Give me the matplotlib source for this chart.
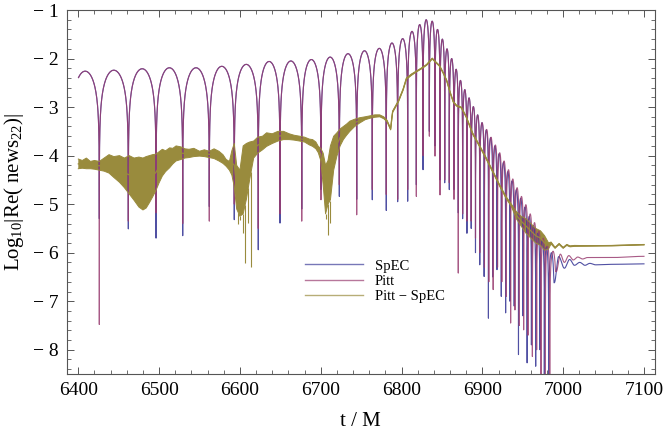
import numpy as np
import matplotlib
matplotlib.use("Agg")
import matplotlib.pyplot as plt
from matplotlib.ticker import MultipleLocator, FuncFormatter

plt.rcParams['font.family'] = ['Liberation Serif', 'DejaVu Serif']
plt.rcParams['mathtext.fontset'] = 'custom'
plt.rcParams['mathtext.rm'] = 'Liberation Serif'
plt.rcParams['mathtext.default'] = 'regular'

# ---------------- data ----------------
# zero crossings of Re(news22) (t/M), lobe maxima (log10) and plotted depth at each zero
spec_zeros = [6391.0, 6426.0, 6461.9, 6496.2, 6529.2, 6562.1, 6593.0, 6622.7, 6649.6, 6676.5,
              6700.3, 6723.0, 6744.5, 6763.8, 6781.1, 6795.2, 6807.6, 6818.3, 6826.6, 6834.4,
              6841.4, 6847.6, 6853.4, 6859.1, 6864.9, 6870.2, 6875.6, 6880.9, 6886.2, 6891.5,
              6896.8, 6902.2, 6907.5, 6912.8, 6918.1, 6923.4, 6928.8, 6934.1, 6939.4, 6944.7,
              6950.1, 6955.4, 6960.7, 6966.0, 6971.3, 6976.7, 6982.0, 6989.0]
spec_peaks = [-2.26, -2.24, -2.21, -2.19, -2.19, -2.16, -2.12, -2.06, -2.05, -2.02,
              -1.97, -1.90, -1.84, -1.79, -1.68, -1.59, -1.44, -1.30, -1.20, -1.23,
              -1.40, -1.60, -1.80, -2.00, -2.22, -2.45, -2.64, -2.81, -2.99, -3.16,
              -3.32, -3.47, -3.63, -3.80, -3.96, -4.14, -4.33, -4.52, -4.70, -4.88,
              -5.06, -5.25, -5.44, -5.60, -5.75, -5.88, -6.00]
spec_depths = [-3.00, -5.30, -5.51, -5.70, -5.65, -5.05, -5.32, -5.94, -5.39, -5.10,
               -4.70, -4.84, -4.90, -4.91, -5.13, -4.95, -4.94, -4.60, -4.29, -3.50,
               -3.80, -4.50, -4.56, -4.70, -4.70, -5.18, -5.30, -5.60, -5.50, -6.00,
               -6.25, -6.49, -7.35, -6.50, -6.35, -6.90, -7.24, -7.00, -7.10, -8.10,
               -7.30, -8.27, -7.90, -8.34, -8.00, -8.60, -8.60, -6.62]
spec_tail_t = [6989.0, 6994.5, 7001.5, 7008.0, 7014.0, 7020.5, 7027.0, 7033.0, 7040.0, 7060.0, 7100.0]
spec_tail_v = [-6.62, -6.08, -6.32, -6.14, -6.26, -6.20, -6.26, -6.22, -6.25, -6.24, -6.23]

pitt_zeros = [6391.0, 6426.0, 6461.9, 6496.2, 6529.2, 6562.1, 6593.0, 6622.7, 6649.6, 6676.5,
              6700.3, 6723.0, 6744.5, 6763.8, 6781.1, 6795.2, 6807.6, 6818.3, 6826.6, 6834.4,
              6841.4, 6847.6, 6853.4, 6859.1, 6864.9, 6870.2, 6875.6, 6880.9, 6886.2, 6891.5,
              6896.8, 6902.6, 6908.0, 6913.4, 6918.8, 6924.1, 6929.6, 6935.0, 6940.3, 6945.7,
              6951.1, 6956.5, 6961.9, 6967.2, 6972.6, 6978.0, 6983.4, 6991.5]
pitt_peaks = [-2.26, -2.24, -2.21, -2.19, -2.19, -2.16, -2.12, -2.06, -2.05, -2.02,
              -1.97, -1.90, -1.84, -1.79, -1.68, -1.59, -1.44, -1.30, -1.20, -1.23,
              -1.40, -1.60, -1.80, -2.00, -2.22, -2.45, -2.64, -2.81, -2.99, -3.16,
              -3.32, -3.46, -3.62, -3.78, -3.94, -4.11, -4.29, -4.48, -4.66, -4.84,
              -5.01, -5.20, -5.38, -5.55, -5.70, -5.84, -5.97]
pitt_depths = [-3.00, -7.48, -5.35, -5.18, -5.40, -5.35, -5.00, -5.50, -5.20, -5.35,
               -4.91, -4.60, -5.22, -4.70, -4.80, -4.90, -4.70, -4.84, -4.00, -3.60,
               -4.01, -4.81, -4.50, -4.56, -4.90, -6.42, -5.20, -5.35, -5.35, -5.70,
               -6.00, -6.30, -6.60, -6.76, -6.30, -6.60, -6.90, -7.45, -7.18, -7.50,
               -7.59, -7.70, -8.14, -8.00, -8.60, -8.60, -8.60, -6.39]
pitt_tail_t = [6991.5, 6996.5, 7001.5, 7007.0, 7012.5, 7018.0, 7024.0, 7030.0, 7060.0, 7100.0]
pitt_tail_v = [-6.39, -6.03, -6.20, -6.06, -6.15, -6.09, -6.13, -6.10, -6.10, -6.075]

# Pitt - SpEC: upper / lower envelope of the noisy trace
diff_t = [6400, 6405, 6410, 6415, 6420, 6426, 6432, 6438, 6444, 6451, 6457, 6463, 6469, 6475,
          6480, 6484, 6488, 6492, 6496, 6500, 6504, 6508, 6513, 6517, 6521, 6527, 6532, 6537,
          6543, 6550, 6556, 6562, 6568, 6574, 6579, 6583, 6587, 6590, 6593, 6596, 6600, 6604,
          6608, 6612, 6617, 6622, 6628, 6633, 6640, 6647, 6654, 6661, 6667, 6674, 6680, 6686,
          6690, 6694, 6697, 6700, 6703, 6706, 6709, 6712, 6716, 6720, 6724, 6728, 6732, 6736,
          6742, 6748, 6755, 6761, 6767, 6773, 6778, 6782, 6786.5, 6788, 6789, 6796, 6802, 6806,
          6812, 6818, 6825, 6831, 6838, 6842, 6847, 6852, 6856, 6860, 6864, 6868, 6874, 6880,
          6888, 6897, 6905, 6914, 6922, 6930, 6936, 6942, 6948, 6954, 6960, 6966, 6972, 6977,
          6982, 6985, 6990, 6995, 7000, 7004.5, 7008.5, 7014, 7030, 7060, 7100]
diff_hi = [-4.07, -4.10, -4.05, -4.12, -4.10, -4.12, -4.05, -3.98, -4.02, -4.00, -4.05, -4.00, -4.05, -4.03,
           -4.05, -4.02, -4.00, -3.98, -3.97, -3.92, -3.87, -3.90, -3.84, -3.85, -3.80, -3.82, -3.86, -3.87,
           -3.85, -3.91, -3.88, -3.91, -3.86, -3.91, -3.98, -4.08, -4.12, -3.90, -3.75, -4.20, -4.30, -3.80,
           -3.75, -3.72, -3.70, -3.62, -3.60, -3.53, -3.55, -3.50, -3.50, -3.55, -3.58, -3.60, -3.62, -3.66,
           -3.67, -3.72, -3.81, -3.85, -3.95, -4.20, -4.10, -3.80, -3.60, -3.53, -3.45, -3.40, -3.35, -3.29,
           -3.25, -3.22, -3.20, -3.18, -3.16, -3.16, -3.20, -3.27, -3.44, -3.20, -3.08, -2.87, -2.62, -2.40,
           -2.32, -2.26, -2.19, -2.12, -1.99, -2.06, -2.14, -2.30, -2.45, -2.68, -2.88, -2.96, -3.00, -3.19,
           -3.53, -3.80, -4.05, -4.35, -4.62, -4.86, -5.00, -5.15, -5.25, -5.30, -5.40, -5.50, -5.55, -5.65,
           -5.80, -5.78, -5.89, -5.81, -5.89, -5.83, -5.86, -5.85, -5.855, -5.85, -5.83]
diff_lo = [-4.27, -4.26, -4.27, -4.27, -4.28, -4.30, -4.32, -4.36, -4.45, -4.55, -4.66, -4.79, -4.92, -5.06,
           -5.12, -5.08, -4.97, -4.85, -4.72, -4.56, -4.42, -4.33, -4.25, -4.17, -4.11, -4.08, -4.05, -4.04,
           -4.02, -4.01, -4.02, -4.04, -4.06, -4.11, -4.16, -4.22, -4.30, -4.40, -4.64, -5.10, -5.25, -5.20,
           -4.90, -4.50, -4.05, -3.95, -3.88, -3.81, -3.75, -3.70, -3.67, -3.67, -3.68, -3.70, -3.72, -3.78,
           -3.81, -3.86, -3.94, -4.10, -4.60, -5.20, -5.00, -4.91, -4.30, -4.01, -3.80, -3.67, -3.58, -3.50,
           -3.40, -3.33, -3.26, -3.23, -3.21, -3.20, -3.24, -3.30, -3.47, -3.25, -3.11, -2.90, -2.65, -2.43,
           -2.35, -2.28, -2.21, -2.14, -2.01, -2.08, -2.16, -2.32, -2.47, -2.70, -2.90, -2.98, -3.02, -3.21,
           -3.56, -3.83, -4.08, -4.38, -4.65, -4.90, -5.05, -5.30, -5.45, -5.60, -5.70, -5.80, -5.85, -5.95,
           -5.92, -5.82, -5.91, -5.83, -5.91, -5.85, -5.88, -5.87, -5.865, -5.86, -5.84]
diff_spike_t = [6598.0, 6600.0, 6603.4, 6606.3, 6610.4, 6613.7, 6706.0, 6709.4, 6711.5]
diff_spike_v = [-5.40, -5.32, -5.59, -6.21, -5.39, -6.30, -5.30, -5.63, -5.39]

series_names = ["SpEC", "Pitt", "Pitt \u2212 SpEC"]
x_ticks = [6400, 6500, 6600, 6700, 6800, 6900, 7000, 7100]
y_ticks = [-8, -7, -6, -5, -4, -3, -2, -1]

C_SPEC = (0.24, 0.24, 0.60)
C_PITT = (0.60, 0.24, 0.443)
C_DIFF = (0.60, 0.547, 0.24)


def build_curve(zeros, peaks, depths, tail_t, tail_v, t0=6400.0):
    k = np.linspace(0.0, 1.0, 161)
    u = 0.5 - 0.5 * np.cos(np.pi * k)
    ts, ys = [], []
    for i in range(len(peaks)):
        a, b = zeros[i], zeros[i + 1]
        uu = u[:-1]
        t = a + (b - a) * uu
        with np.errstate(divide='ignore'):
            y = peaks[i] + np.log10(np.abs(np.sin(np.pi * uu)))
        floor = np.where(uu < 0.5, depths[i], depths[i + 1])
        y = np.maximum(y, floor)
        y[0] = depths[i]
        ts.append(t)
        ys.append(y)
    s = np.linspace(0, 1, 30)
    for j in range(len(tail_t) - 1):
        t = tail_t[j] + (tail_t[j + 1] - tail_t[j]) * s[:-1]
        y = tail_v[j] + (tail_v[j + 1] - tail_v[j]) * (1 - np.cos(np.pi * s[:-1])) / 2
        ts.append(t)
        ys.append(y)
    ts.append(np.array([tail_t[-1]]))
    ys.append(np.array([tail_v[-1]]))
    t = np.concatenate(ts)
    y = np.concatenate(ys)
    m = t >= t0
    return t[m], y[m]


fig = plt.figure(figsize=(6.64, 4.30), dpi=100)
ax = fig.add_axes([0.1004, 0.1302, 0.8860, 0.8465])

ts, ys = build_curve(spec_zeros, spec_peaks, spec_depths, spec_tail_t, spec_tail_v)
tp, yp = build_curve(pitt_zeros, pitt_peaks, pitt_depths, pitt_tail_t, pitt_tail_v)
ax.plot(ts, ys, color=C_SPEC, lw=0.8, alpha=0.9, label=series_names[0])
ax.plot(tp, yp, color=C_PITT, lw=0.8, alpha=0.85, label=series_names[1])

dt = np.array(diff_t, dtype=float)
dh = np.array(diff_hi)
dl = np.array(diff_lo)
ax.fill_between(dt, dl, dh, facecolor=C_DIFF, edgecolor='none', linewidth=0)
ax.plot(dt, dh, color=C_DIFF, lw=0.7)
ax.plot(dt, dl, color=C_DIFF, lw=0.7)
ax.plot(dt, (dh + dl) / 2, color=C_DIFF, lw=0.9, label=series_names[2])
ax.vlines(diff_spike_t, np.interp(diff_spike_t, dt, dl), diff_spike_v, color=C_DIFF, lw=0.8)

ax.set_xlim(6385.6, 7113.6)
ax.set_ylim(-8.5, -1.0)
ax.set_xticks(x_ticks)
ax.set_yticks(y_ticks)
ax.xaxis.set_minor_locator(MultipleLocator(20))
ax.yaxis.set_minor_locator(MultipleLocator(0.2))
ax.yaxis.set_major_formatter(FuncFormatter(lambda v, p: "\u2212 %d" % abs(round(v)) if v < 0 else "%d" % v))

for sp in ax.spines.values():
    sp.set_color('#555555')
    sp.set_linewidth(0.8)
ax.tick_params(which='both', direction='in', top=True, right=True, colors='#555555',
               labelcolor='black', labelsize=14)
ax.tick_params(which='major', length=5, width=0.7)
ax.tick_params(which='minor', length=2.8, width=0.6)
ax.tick_params(axis='x', pad=6)
ax.tick_params(axis='y', pad=6)

ax.set_xlabel("t / M", fontsize=15, labelpad=9)
ax.set_ylabel("Log$_{10}$|Re( news$_{22}$)|", fontsize=15, labelpad=5)

leg = ax.legend(loc='upper left', bbox_to_anchor=(0.405, 0.315), frameon=False, fontsize=10.5,
                handlelength=4.0, handletextpad=0.8, labelspacing=0.15, borderpad=0, borderaxespad=0)
for h in leg.get_lines():
    h.set_alpha(0.7)
    h.set_linewidth(1.0)

fig.savefig("out.png", dpi=100)
